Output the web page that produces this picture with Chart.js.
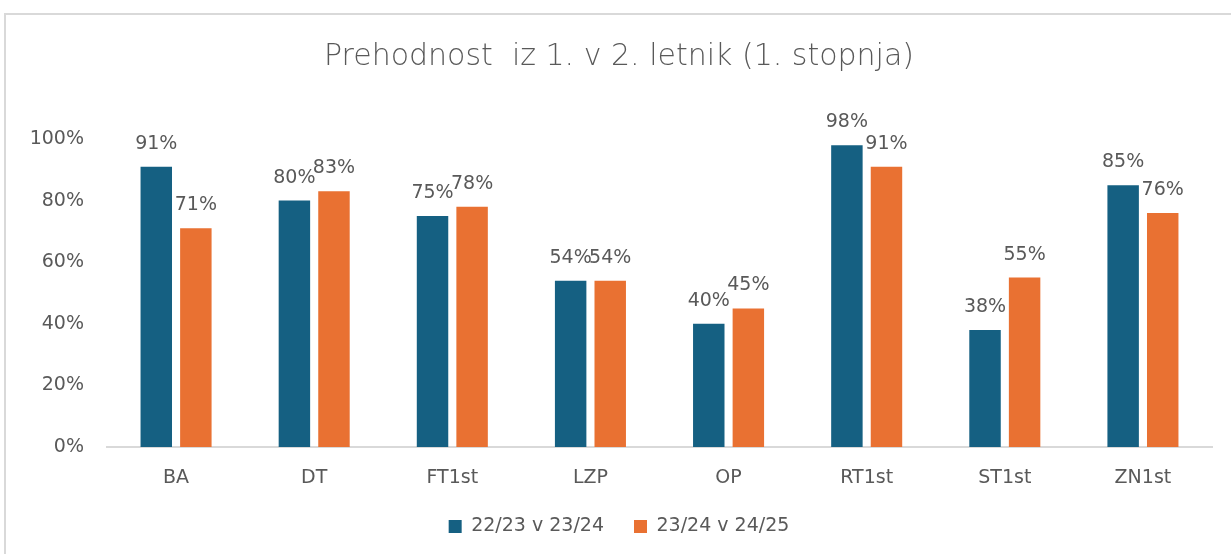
<!DOCTYPE html>
<html>
<head>
<meta charset="utf-8">
<script src="https://cdn.jsdelivr.net/npm/chart.js@4.4.1/dist/chart.umd.min.js"></script>
<style>
  html, body { margin: 0; padding: 0; background: #ffffff; overflow: hidden; }
  #frame { position: absolute; left: 4px; top: 13px; width: 1300px; height: 600px;
           border-top: 2px solid #d9d9d9; border-left: 2px solid #d9d9d9; }
  #wrap { position: absolute; left: 0; top: 0; width: 1231px; height: 554px; }
</style>
</head>
<body>
<div id="frame"></div>
<div id="wrap"><canvas id="c" width="1231" height="554"></canvas></div>
<script>
const categories = ["BA", "DT", "FT1st", "LZP", "OP", "RT1st", "ST1st", "ZN1st"];
const seriesNames = ["22/23 v 23/24", "23/24 v 24/25"];
const values2223 = [91, 80, 75, 54, 40, 98, 38, 85];
const values2324 = [71, 83, 78, 54, 45, 91, 55, 76];
const yTicks = [0, 20, 40, 60, 80, 100];
const titleText = "Prehodnost  iz 1. v 2. letnik (1. stopnja)";

const FONT = "'DejaVu Sans', sans-serif";
const TXT = "#595959";

const dataLabels = {
  id: "dataLabels",
  afterDatasetsDraw(chart) {
    const ctx = chart.ctx;
    ctx.save();
    ctx.font = "19px " + FONT;
    ctx.fillStyle = TXT;
    ctx.textAlign = "center";
    ctx.textBaseline = "middle";
    chart.data.datasets.forEach((ds, i) => {
      chart.getDatasetMeta(i).data.forEach((bar, j) => {
        ctx.fillText(ds.data[j] + "%", bar.x, bar.y - 23);
      });
    });
    ctx.restore();
  }
};

new Chart(document.getElementById("c"), {
  type: "bar",
  data: {
    labels: categories,
    datasets: [
      { label: seriesNames[0], data: values2223, backgroundColor: "#156082",
        categoryPercentage: 0.573, barPercentage: 0.795 },
      { label: seriesNames[1], data: values2324, backgroundColor: "#E97132",
        categoryPercentage: 0.573, barPercentage: 0.795 }
    ]
  },
  options: {
    responsive: false,
    animation: false,
    events: [],
    layout: { padding: { left: 26, right: 19, top: 0, bottom: 8 } },
    plugins: {
      title: {
        display: true,
        text: titleText,
        color: TXT,
        font: { family: FONT, size: 30, weight: 300 },
        padding: { top: 39, bottom: 64 }
      },
      legend: {
        position: "bottom",
        labels: {
          color: TXT,
          font: { family: FONT, size: 19 },
          boxWidth: 13, boxHeight: 13,
          padding: 30
        }
      },
      tooltip: { enabled: false }
    },
    scales: {
      x: {
        grid: { display: false, drawTicks: false },
        border: { display: true, color: "#d9d9d9", width: 2 },
        ticks: { color: TXT, font: { family: FONT, size: 19 }, padding: 20, maxRotation: 0 },
        afterFit(scale) { scale.height = 40; }
      },
      y: {
        min: 0, max: 100,
        afterBuildTicks(scale) { scale.ticks = yTicks.map(v => ({ value: v })); },
        grid: { display: false, drawTicks: false },
        border: { display: false },
        ticks: { color: TXT, font: { family: FONT, size: 19 }, padding: 23,
                 callback: v => v + "%" },
        afterFit(scale) { scale.width = 81; }
      }
    }
  },
  plugins: [dataLabels]
});
</script>
</body>
</html>
